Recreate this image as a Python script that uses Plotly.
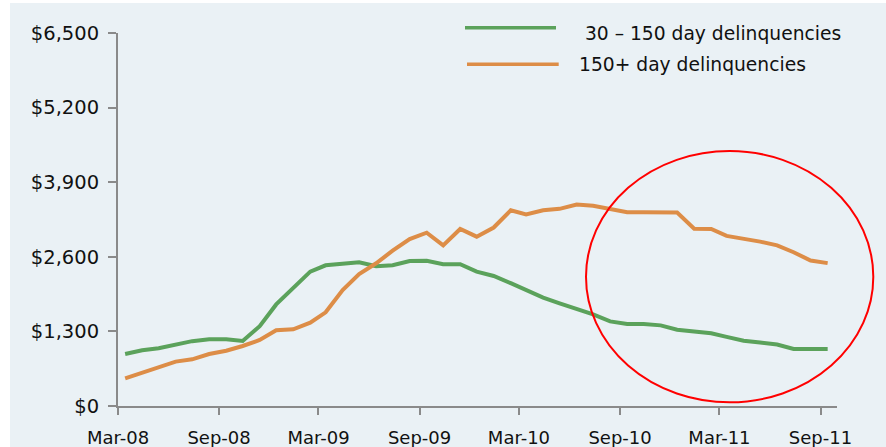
import pandas as pd
import plotly.graph_objects as go

# ---- data (monthly, Mar-08 .. Sep-11) ----
month_starts = pd.date_range("2008-03-01", periods=43, freq="MS")
dates = month_starts + pd.DateOffset(days=13)

delinq_30_150 = [906, 970, 1005, 1060, 1130, 1162, 1162, 1133, 1390, 1770,
                 2045, 2341, 2452, 2475, 2505, 2435, 2452, 2527, 2530, 2472,
                 2470, 2341, 2265, 2140, 2022, 1890, 1790, 1690, 1595, 1475,
                 1429, 1429, 1405, 1330, 1297, 1267, 1205, 1138, 1105, 1072,
                 995, 995, 995]
delinq_150_plus = [482, 581, 674, 773, 813, 906, 964, 1046, 1150, 1320,
                   1336, 1452, 1633, 2022, 2300, 2487, 2707, 2910, 3021, 2800,
                   3085, 2951, 3110, 3410, 3340, 3410, 3436, 3510, 3490, 3433,
                   3375, 3375, 3375, 3370, 3090, 3085, 2965, 2920, 2865, 2800,
                   2680, 2535, 2490]

series_names = [" 30 \u2013 150 day delinquencies", "150+ day delinquencies"]
x_tick_vals = ["2008-03-01", "2008-09-01", "2009-03-01", "2009-09-01",
               "2010-03-01", "2010-09-01", "2011-03-01", "2011-09-01"]
x_tick_text = ["Mar-08", "Sep-08", "Mar-09", "Sep-09",
               "Mar-10", "Sep-10", "Mar-11", "Sep-11"]
y_tick_vals = [0, 1300, 2600, 3900, 5200, 6500]
y_tick_text = ["$0", "$1,300", "$2,600", "$3,900", "$5,200", "$6,500"]

GREEN = "#5BA25B"
ORANGE = "#DD8D47"
BG = "#EAF1F5"
AXIS = "#8A8A8A"
FONT = "DejaVu Sans"

fig = go.Figure()
fig.add_trace(go.Scatter(x=dates, y=delinq_30_150, mode="lines",
                         line=dict(color=GREEN, width=4), name=series_names[0],
                         showlegend=False))
fig.add_trace(go.Scatter(x=dates, y=delinq_150_plus, mode="lines",
                         line=dict(color=ORANGE, width=4), name=series_names[1],
                         showlegend=False))

W, H = 886, 447
L, R, T, B = 118, 49, 33, 41

def px(xp):
    return (xp - L) / (W - L - R)

def py(yp):
    return (H - B - yp) / (H - T - B)

shapes = [
    # white border strips (left and top)
    dict(type="rect", xref="paper", yref="paper", x0=px(0), x1=px(10),
         y0=py(H), y1=py(0), fillcolor="white", line=dict(width=0), layer="below"),
    dict(type="rect", xref="paper", yref="paper", x0=px(0), x1=px(W),
         y0=py(3), y1=py(0), fillcolor="white", line=dict(width=0), layer="below"),
    # legend line samples
    dict(type="line", xref="paper", yref="paper", x0=px(465), x1=px(556),
         y0=py(27.7), y1=py(27.7), line=dict(color=GREEN, width=3.5)),
    dict(type="line", xref="paper", yref="paper", x0=px(467), x1=px(558.7),
         y0=py(64.3), y1=py(64.3), line=dict(color=ORANGE, width=3.5)),
    # red ellipse
    dict(type="circle", xref="paper", yref="paper", x0=px(586), x1=px(873.3),
         y0=py(402.3), y1=py(151), line=dict(color="#FF0000", width=2)),
]

annotations = [
    dict(xref="paper", yref="paper", x=px(577), y=py(33), text=series_names[0],
         showarrow=False, xanchor="left", yanchor="middle",
         font=dict(family=FONT, size=18.7, color="#111111")),
    dict(xref="paper", yref="paper", x=px(577), y=py(64), text=series_names[1],
         showarrow=False, xanchor="left", yanchor="middle",
         font=dict(family=FONT, size=18.7, color="#111111")),
]

fig.update_layout(
    width=W, height=H,
    margin=dict(l=L, r=R, t=T, b=B, pad=0),
    paper_bgcolor=BG, plot_bgcolor=BG,
    shapes=shapes, annotations=annotations,
    showlegend=False,
    font=dict(family=FONT, color="#111111"),
    xaxis=dict(
        type="date", range=["2008-03-01", "2011-10-01"],
        tickvals=x_tick_vals, ticktext=x_tick_text, automargin=False,
        showgrid=False, zeroline=False, showline=True,
        linecolor=AXIS, linewidth=2, ticks="outside", ticklen=7,
        tickcolor=AXIS, tickwidth=2, tickfont=dict(family=FONT, size=18),
        ticklabelstandoff=7,
    ),
    yaxis=dict(
        range=[0, 6500], tickvals=y_tick_vals, ticktext=y_tick_text,
        automargin=False, showgrid=False, zeroline=False, showline=True,
        linecolor=AXIS, linewidth=2, ticks="outside", ticklen=8,
        tickcolor=AXIS, tickwidth=2, tickfont=dict(family=FONT, size=19.5),
        ticklabelstandoff=5,
    ),
)

fig.write_html("out.html")
